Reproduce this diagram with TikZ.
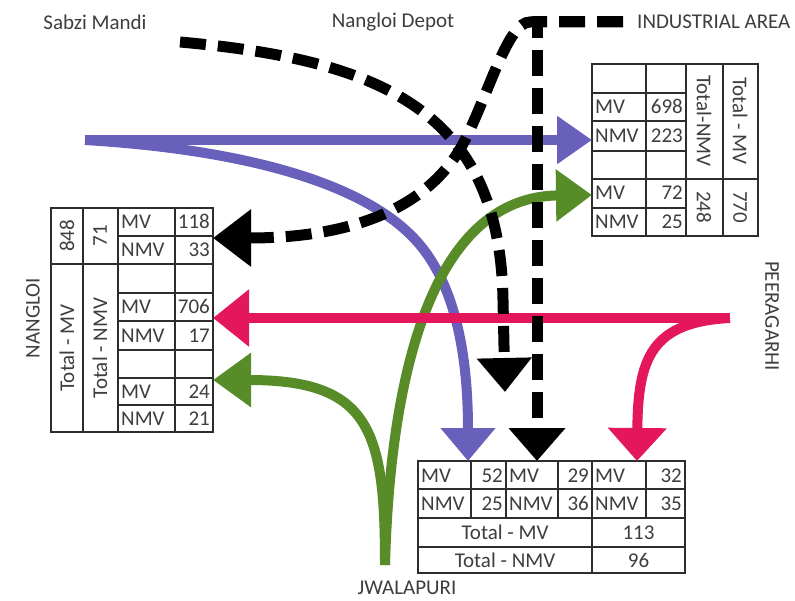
\documentclass[tikz,border=0pt]{standalone}
\usepackage{fontspec}
\setmainfont{Carlito}
\usetikzlibrary{arrows.meta}
\definecolor{flowblue}{RGB}{104,96,186}
\definecolor{flowgreen}{RGB}{88,140,40}
\definecolor{flowpink}{RGB}{228,22,92}
\definecolor{inkgray}{RGB}{62,62,62}
\definecolor{gridgray}{RGB}{45,45,45}

\begin{document}
\begin{tikzpicture}[x=1pt,y=-1pt,
  font=\fontsize{21}{25}\selectfont,
  grid/.style={draw=gridgray, line width=1.1pt},
  lbl/.style={text=inkgray, inner sep=0pt},
  cl/.style={text=inkgray, inner sep=0pt, anchor=base west},
  cr/.style={text=inkgray, inner sep=0pt, anchor=base east},
  cc/.style={text=inkgray, inner sep=0pt, anchor=base},
  vup/.style={text=inkgray, inner sep=0pt, rotate=90},
  vdn/.style={text=inkgray, inner sep=0pt, rotate=-90},
  flow/.style={line width=10pt},
  dashflow/.style={line width=11pt, dash pattern=on 26pt off 12pt, draw=black},
]
\fill[white] (0,0) rectangle (795,601);
\useasboundingbox (0,0) rectangle (795,601);

% ---------- place labels ----------
\node[lbl] (sabzi) at (95,22) {Sabzi Mandi};
\node[lbl] (depot) at (393,22) {Nangloi Depot};
\node[lbl, anchor=west] (indarea) at (637,22) {INDUSTRIAL AREA};
\node[lbl, rotate=90] (nangloi) at (33,318) {NANGLOI};
\node[lbl, rotate=-90] (peeragarhi) at (772,316) {PEERAGARHI};
\node[lbl] (jwalapuri) at (407,588) {JWALAPURI};

% ---------- right table ----------
\draw[grid] (592,64) rectangle (758,236);
\foreach \x in {646,686,723} \draw[grid] (\x,64) -- (\x,236);
\foreach \y in {93,121,151,208} \draw[grid] (592,\y) -- (686,\y);
\draw[grid] (592,179) -- (758,179);
\node[cl] (rt-mv1)  at (595,114) {MV};
\node[cr] (rt-mv1v) at (683,114) {698};
\node[cl] (rt-nmv1) at (595,143) {NMV};
\node[cr] (rt-nmv1v) at (683,143) {223};
\node[cl] (rt-mv2)  at (595,200) {MV};
\node[cr] (rt-mv2v) at (683,200) {72};
\node[cl] (rt-nmv2) at (595,229) {NMV};
\node[cr] (rt-nmv2v) at (683,229) {25};
\node[vdn] (rt-tnmv)  at (704,121) {Total-NMV};
\node[vdn] (rt-tnmvv) at (704,207) {248};
\node[vdn] (rt-tmv)   at (740,121) {Total - MV};
\node[vdn] (rt-tmvv)  at (740,207) {770};

% ---------- left table ----------
\draw[grid] (51,208) rectangle (213,432);
\foreach \x in {83,118,175} \draw[grid] (\x,208) -- (\x,432);
\draw[grid] (51,264) -- (213,264);
\foreach \y in {236,293,321,350,378,405} \draw[grid] (118,\y) -- (213,\y);
\node[cl] (lt-mv1)   at (121,229) {MV};
\node[cr] (lt-mv1v)  at (210,229) {118};
\node[cl] (lt-nmv1)  at (121,257) {NMV};
\node[cr] (lt-nmv1v) at (210,257) {33};
\node[cl] (lt-mv2)   at (121,314) {MV};
\node[cr] (lt-mv2v)  at (210,314) {706};
\node[cl] (lt-nmv2)  at (121,342.5) {NMV};
\node[cr] (lt-nmv2v) at (210,342.5) {17};
\node[cl] (lt-mv3)   at (121,398.5) {MV};
\node[cr] (lt-mv3v)  at (210,398.5) {24};
\node[cl] (lt-nmv3)  at (121,425.5) {NMV};
\node[cr] (lt-nmv3v) at (210,425.5) {21};
\node[vup] (lt-tmvv)  at (67,236) {848};
\node[vup] (lt-tnmvv) at (100,236) {71};
\node[vup] (lt-tmv)   at (67,348) {Total - MV};
\node[vup] (lt-tnmv)  at (100,348) {Total - NMV};

% ---------- bottom table ----------
\draw[grid] (418,461) rectangle (685,573);
\foreach \x in {471,506,558,646} \draw[grid] (\x,461) -- (\x,518);
\draw[grid] (592,461) -- (592,573);
\foreach \y in {489,518,547} \draw[grid] (418,\y) -- (685,\y);
\node[cl] (bt-mva)  at (421,482) {MV};
\node[cr] (bt-mvav) at (503,482) {52};
\node[cl] (bt-nmva) at (421,510.5) {NMV};
\node[cr] (bt-nmvav) at (503,510.5) {25};
\node[cl] (bt-mvb)  at (509,482) {MV};
\node[cr] (bt-mvbv) at (589,482) {29};
\node[cl] (bt-nmvb) at (509,510.5) {NMV};
\node[cr] (bt-nmvbv) at (589,510.5) {36};
\node[cl] (bt-mvc)  at (595,482) {MV};
\node[cr] (bt-mvcv) at (682,482) {32};
\node[cl] (bt-nmvc) at (595,510.5) {NMV};
\node[cr] (bt-nmvcv) at (682,510.5) {35};
\node[cc] (bt-tmv)   at (505,539.5) {Total - MV};
\node[cc] (bt-tmvv)  at (638.5,539.5) {113};
\node[cc] (bt-tnmv)  at (505,567) {Total - NMV};
\node[cc] (bt-tnmvv) at (638.5,567) {96};

% ---------- connector end points ----------
\coordinate (blueSrc)  at (85,140);
\coordinate (rtBlue)   at (592,140);
\coordinate (btBlue)   at (468,461);
\coordinate (jwSrc)    at (385,565);
\coordinate (rtGreen)  at (592,195);
\coordinate (ltGreen)  at (213,380);
\coordinate (pgSrc)    at (730,318);
\coordinate (ltPink)   at (213,318);
\coordinate (btPink)   at (637,461);
\coordinate (sabziSrc) at (180,42);
\coordinate (sabziEnd) at (505,392);
\coordinate (indSrc)   at (623,22);
\coordinate (ltBlack)  at (213,238);
\coordinate (btBlack)  at (537,461);

% ---------- blue flows ----------
\draw[flow, flowblue, -{Triangle[width=46pt,length=35pt]}] (blueSrc) -- (rtBlue);
\draw[flow, flowblue, -{Triangle[width=53pt,length=33pt]}]
  (blueSrc) .. controls (250,150) and (370,185) .. (420,245)
            .. controls (460,293) and (468,370) .. (btBlue);

% ---------- green flows ----------
\draw[flow, flowgreen, -{Triangle[width=50pt,length=36pt]}]
  (jwSrc) .. controls (390,380) and (430,197) .. (rtGreen);
\draw[flow, flowgreen, -{Triangle[width=52pt,length=38pt]}]
  (jwSrc) .. controls (385,430) and (370,380) .. (ltGreen);

% ---------- pink flows ----------
\draw[flow, flowpink, -{Triangle[width=55pt,length=36pt]}] (pgSrc) -- (ltPink);
\draw[flow, flowpink, -{Triangle[width=57pt,length=33pt]}]
  (pgSrc) .. controls (650,322) and (638,360) .. (btPink);

% ---------- black dashed flows ----------
\draw[dashflow, -{Triangle[width=53pt,length=34pt]}]
  (sabziSrc) .. controls (380,60) and (500,110) .. (503,300) -- (sabziEnd);
\draw[dashflow, -{Triangle[width=55pt,length=38pt]}]
  (indSrc) -- (530,22) .. controls (508,22) and (490,90) .. (465,140)
           .. controls (440,190) and (380,238) .. (ltBlack);
\draw[dashflow, -{Triangle[width=55pt,length=33pt]}]
  (indSrc) -- (537,22) -- (btBlack);
\end{tikzpicture}
\end{document}
